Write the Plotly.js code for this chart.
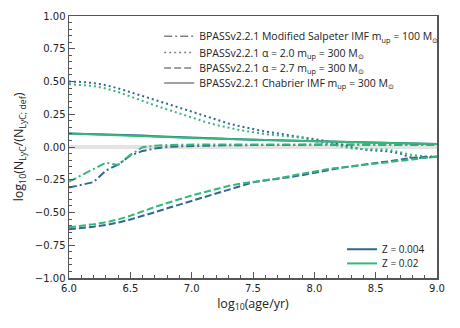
<!DOCTYPE html>
<html>
<head>
<meta charset="utf-8">
<script src="https://cdn.plot.ly/plotly-3.0.1.min.js"></script>
<style>
  html, body { margin: 0; padding: 0; background: #fff; }
  #chart { width: 460px; height: 328px; }
</style>
</head>
<body>
<div id="chart"></div>
<script>
// log10(age/yr) grid shared by every model curve
let age = [6.0, 6.1, 6.2, 6.3, 6.4, 6.5, 6.6, 6.7, 6.8, 6.9,
           7.0, 7.1, 7.2, 7.3, 7.4, 7.5, 7.6, 7.7, 7.8, 7.9,
           8.0, 8.1, 8.2, 8.3, 8.4, 8.5, 8.6, 8.7, 8.8, 8.9, 9.0];

// Modified Salpeter IMF, m_up = 100
let salp_z004 = [-0.310, -0.290, -0.268, -0.180, -0.135, -0.065, -0.030, -0.012, 0.000, 0.005,
                 0.008, 0.010, 0.012, 0.013, 0.014, 0.015, 0.015, 0.016, 0.016, 0.017,
                 0.017, 0.017, 0.017, 0.018, 0.018, 0.018, 0.018, 0.018, 0.018, 0.018, 0.018];
let salp_z02  = [-0.265, -0.215, -0.165, -0.120, -0.137, -0.060, -0.002, 0.010, 0.015, 0.018,
                 0.020, 0.020, 0.020, 0.020, 0.020, 0.020, 0.020, 0.020, 0.020, 0.020,
                 0.020, 0.020, 0.020, 0.020, 0.020, 0.020, 0.020, 0.020, 0.020, 0.020, 0.020];

// alpha = 2.0, m_up = 300
let a20_z004 = [0.500, 0.497, 0.488, 0.472, 0.448, 0.420, 0.390, 0.360, 0.330, 0.300,
                0.270, 0.238, 0.206, 0.180, 0.157, 0.135, 0.118, 0.104, 0.090, 0.077,
                0.062, 0.045, 0.020, 0.000, -0.020, -0.027, -0.033, -0.050, -0.085, -0.082, -0.075];
let a20_z02  = [0.480, 0.474, 0.465, 0.447, 0.420, 0.386, 0.350, 0.318, 0.287, 0.255,
                0.225, 0.195, 0.168, 0.146, 0.128, 0.114, 0.098, 0.090, 0.082, 0.070,
                0.045, 0.025, 0.005, -0.010, -0.016, -0.018, -0.020, -0.040, -0.062, -0.070, -0.074];

// alpha = 2.7, m_up = 300
let a27_z004 = [-0.628, -0.620, -0.608, -0.595, -0.577, -0.553, -0.527, -0.498, -0.468, -0.440,
                -0.413, -0.383, -0.352, -0.325, -0.295, -0.270, -0.255, -0.245, -0.230, -0.215,
                -0.200, -0.180, -0.162, -0.147, -0.135, -0.122, -0.110, -0.095, -0.082, -0.076, -0.074];
let a27_z02  = [-0.613, -0.603, -0.590, -0.575, -0.553, -0.525, -0.490, -0.458, -0.428, -0.398,
                -0.370, -0.345, -0.320, -0.297, -0.280, -0.267, -0.255, -0.240, -0.222, -0.205,
                -0.185, -0.170, -0.158, -0.148, -0.140, -0.130, -0.120, -0.108, -0.095, -0.083, -0.074];

// Chabrier IMF, m_up = 300
let chab_z004 = [0.104, 0.102, 0.100, 0.097, 0.094, 0.091, 0.087, 0.083, 0.079, 0.075,
                 0.071, 0.067, 0.064, 0.061, 0.058, 0.055, 0.053, 0.051, 0.049, 0.047,
                 0.045, 0.042, 0.040, 0.038, 0.036, 0.034, 0.032, 0.029, 0.027, 0.025, 0.023];
let chab_z02  = [0.104, 0.101, 0.098, 0.095, 0.091, 0.088, 0.084, 0.080, 0.076, 0.072,
                 0.068, 0.065, 0.062, 0.059, 0.056, 0.054, 0.052, 0.050, 0.048, 0.046,
                 0.044, 0.041, 0.039, 0.037, 0.035, 0.033, 0.031, 0.029, 0.027, 0.025, 0.023];

let blue = '#31688e';
let green = '#35b779';
let grey = '#808080';

let styleNames = [
  'BPASSv2.2.1 Modified Salpeter IMF m<sub>up</sub> = 100 M<sub>⊙</sub>',
  'BPASSv2.2.1 α = 2.0 m<sub>up</sub> = 300 M<sub>⊙</sub>',
  'BPASSv2.2.1 α = 2.7 m<sub>up</sub> = 300 M<sub>⊙</sub>',
  'BPASSv2.2.1 Chabrier IMF m<sub>up</sub> = 300 M<sub>⊙</sub>'
];
let styleDash = ['8px,3px,2px,3px', '2px,3px', '7px,3px', 'solid'];
let zNames = ['Z = 0.004', 'Z = 0.02'];

let series = [
  [salp_z004, salp_z02],
  [a20_z004, a20_z02],
  [a27_z004, a27_z02],
  [chab_z004, chab_z02]
];

let data = [];

for (let s = 0; s < series.length; s++) {
  for (let z = 0; z < 2; z++) {
    data.push({
      type: 'scatter',
      mode: 'lines',
      x: age,
      y: series[s][z],
      line: {color: z == 0 ? blue : green, width: 2, dash: styleDash[s]},
      showlegend: false,
      hoverinfo: 'skip'
    });
  }
}

// one legend box per entry so the rows can sit as tight as in the paper figure
let styleFont = {family: 'Open Sans', size: 10.5, color: '#222'};
let zFont = {family: 'Open Sans', size: 10, color: '#222'};
let legendBoxes = {};
let styleTop = [0.978, 0.916, 0.857, 0.800];
let zTop = [0.165, 0.111];

for (let s = 0; s < styleNames.length; s++) {
  let key = 'legend' + (s == 0 ? '' : (s + 1));
  data.push({
    type: 'scatter',
    mode: 'lines',
    x: [null],
    y: [null],
    name: styleNames[s],
    line: {color: grey, width: 1.5, dash: styleDash[s]},
    legend: key
  });
  legendBoxes[key] = {x: 0.245, y: styleTop[s], xanchor: 'left', yanchor: 'top',
                      bgcolor: 'rgba(0,0,0,0)', font: styleFont};
}

for (let z = 0; z < zNames.length; z++) {
  let key = 'legend' + (z + 5);
  data.push({
    type: 'scatter',
    mode: 'lines',
    x: [null],
    y: [null],
    name: zNames[z],
    line: {color: z == 0 ? blue : green, width: 2},
    legend: key
  });
  legendBoxes[key] = {x: 0.742, y: zTop[z], xanchor: 'left', yanchor: 'top',
                      bgcolor: 'rgba(0,0,0,0)', font: zFont};
}

let axisCommon = {
  showline: true,
  linecolor: '#555',
  linewidth: 1.5,
  mirror: true,
  ticks: 'inside',
  ticklen: 6,
  tickwidth: 1,
  tickcolor: '#555',
  showgrid: false,
  zeroline: false,
  tickfont: {family: 'DejaVu Sans', size: 10, color: '#222'}
};

let layout = Object.assign({
  width: 460,
  height: 328,
  margin: {l: 69, r: 23, t: 16, b: 50},
  paper_bgcolor: '#fff',
  plot_bgcolor: '#fff',
  font: {family: 'Open Sans', color: '#222'},
  xaxis: Object.assign({}, axisCommon, {
    range: [6, 9],
    dtick: 0.5,
    tickformat: '.1f',
    minor: {dtick: 0.1, ticks: 'inside', ticklen: 3, tickcolor: '#555'},
    title: {text: 'log<sub>10</sub>(age/yr)', font: {family: 'Open Sans', size: 12.5}, standoff: 6}
  }),
  yaxis: Object.assign({}, axisCommon, {
    range: [-1, 1],
    dtick: 0.25,
    tickformat: '.2f',
    minor: {dtick: 0.05, ticks: 'inside', ticklen: 3, tickcolor: '#555'},
    title: {text: 'log<sub>10</sub>(N<sub>LyC</sub>/(N<sub>LyC; def</sub>)', font: {family: 'Open Sans', size: 12.5}, standoff: 8}
  }),
  shapes: [{
    type: 'line', xref: 'paper', yref: 'y',
    x0: 0, x1: 1, y0: 0, y1: 0,
    line: {color: '#e3e3e3', width: 4},
    layer: 'below'
  }]
}, legendBoxes);

Plotly.newPlot('chart', data, layout, {displayModeBar: false, staticPlot: true});
</script>
</body>
</html>
